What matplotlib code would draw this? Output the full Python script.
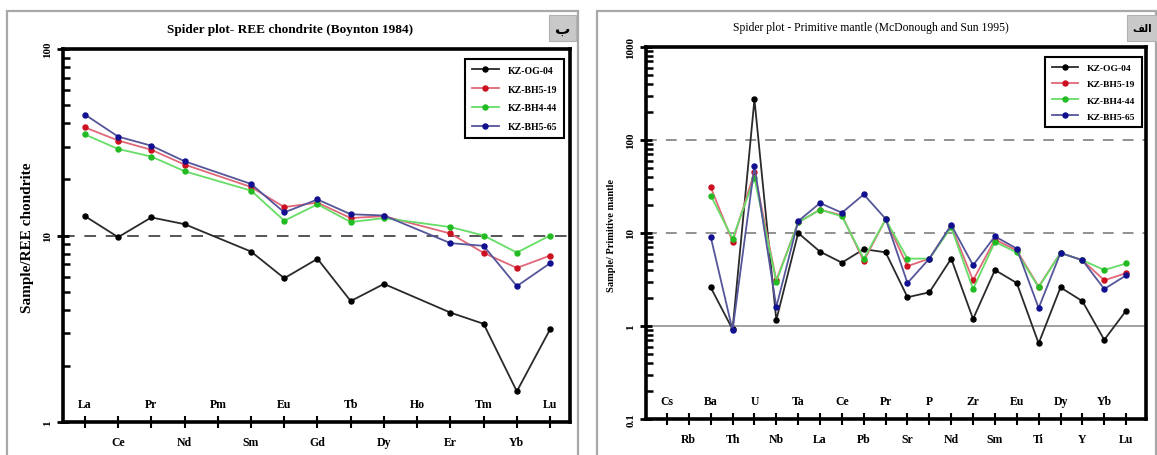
import matplotlib
matplotlib.use('Agg')
import matplotlib.pyplot as plt
import numpy as np
from matplotlib.patches import Rectangle
from matplotlib.ticker import LogLocator, NullFormatter, FixedLocator, FixedFormatter
import matplotlib.transforms as mtransforms

plt.rcParams['font.family'] = ['Liberation Serif', 'DejaVu Sans']
nan = np.nan

# ---------------- data: REE chondrite (Boynton 1984) ----------------
ree_elements = ['La', 'Ce', 'Pr', 'Nd', 'Pm', 'Sm', 'Eu', 'Gd', 'Tb', 'Dy', 'Ho', 'Er', 'Tm', 'Yb', 'Lu']
ree_og04 = [12.7, 9.8, 12.5, 11.5, nan, 8.2, 5.9, 7.5, 4.45, 5.5, nan, 3.86, 3.36, 1.46, 3.14]
ree_bh519 = [38.0, 32.3, 28.8, 24.0, nan, 18.2, 14.2, 15.0, 12.4, 12.7, nan, 10.25, 8.07, 6.7, 7.8]
ree_bh444 = [34.8, 29.1, 26.5, 22.1, nan, 17.4, 12.0, 14.7, 11.8, 12.4, nan, 11.1, 10.0, 8.1, 10.0]
ree_bh565 = [44.5, 33.9, 30.3, 25.0, nan, 18.9, 13.3, 15.6, 13.0, 12.8, nan, 9.1, 8.8, 5.35, 7.1]

# ---------------- data: Primitive mantle (McDonough and Sun 1995) ----------------
pm_elements = ['Cs', 'Rb', 'Ba', 'Th', 'U', 'Nb', 'Ta', 'La', 'Ce', 'Pb', 'Pr', 'Sr', 'P', 'Nd',
               'Zr', 'Sm', 'Eu', 'Ti', 'Dy', 'Y', 'Yb', 'Lu']
pm_og04 = [nan, nan, 2.6, 0.92, 273, 1.16, 10.0, 6.3, 4.8, 6.7, 6.2, 2.04, 2.3, 5.3,
           1.19, 4.0, 2.9, 0.65, 2.6, 1.85, 0.71, 1.46]
pm_bh519 = [nan, nan, 31.0, 8.1, 45.0, 3.1, 13.0, 17.8, 15.5, 5.0, 14.0, 4.4, 5.3, 11.9,
            3.1, 8.5, 6.5, 2.65, 6.1, 5.1, 3.1, 3.7]
pm_bh444 = [nan, nan, 25.3, 8.7, 38.9, 3.0, 13.0, 17.8, 15.1, 5.3, 14.0, 5.3, 5.3, 11.5,
            2.5, 8.0, 6.2, 2.6, 6.1, 5.1, 4.0, 4.7]
pm_bh565 = [nan, nan, 9.1, 0.9, 52.6, 1.6, 13.4, 21.0, 16.5, 26.0, 14.2, 2.9, 5.3, 12.2,
            4.5, 9.2, 6.8, 1.56, 6.1, 5.1, 2.5, 3.5]

sample_names = ['KZ-OG-04', 'KZ-BH5-19', 'KZ-BH4-44', 'KZ-BH5-65']
line_colors = ['#2a2a2a', '#e06878', '#66dd66', '#55559a']
marker_colors = ['#000000', '#cc1020', '#22bb22', '#101090']

left_title = 'Spider plot- REE chondrite (Boynton 1984)'
right_title = 'Spider plot - Primitive mantle (McDonough and Sun 1995)'
left_ylabel = 'Sample/REE chondrite'
right_ylabel = 'Sample/ Primitive mantle'
left_tag = '\u0628'                      # ب
right_tag = '\uFED2\uFEDF\uFE8D'          # الف (visual order, presentation forms)

W, H = 1157, 456
fig = plt.figure(figsize=(W / 100, H / 100), dpi=100)
fig.patch.set_facecolor('white')


def fx(px):
    return px / W


def fy(py):
    return 1 - py / H


# panel frames
for x0, x1 in [(7, 578), (597, 1156)]:
    fig.add_artist(Rectangle((fx(x0), fy(470)), fx(x1 - x0), (470 - 12) / H,
                             transform=fig.transFigure, fill=False,
                             edgecolor='#a8a8a8', lw=1.6))
# corner tags
for (x0, x1, txt, fs) in [(549, 576, left_tag, 11), (1127, 1157, right_tag, 7.5)]:
    fig.add_artist(Rectangle((fx(x0), fy(42)), fx(x1 - x0), 26 / H,
                             transform=fig.transFigure, facecolor='#c9c9c9',
                             edgecolor='#b0b0b0', lw=0.8))
    fig.text(fx((x0 + x1) / 2), fy(29), txt, ha='center', va='center',
             fontsize=fs, fontweight='bold', family='DejaVu Sans')

fig.text(fx(290), fy(30), left_title, ha='center', va='center',
         fontsize=9.5, fontweight='bold')
fig.text(fx(871), fy(28), right_title, ha='center', va='center',
         fontsize=8.4)

fig.text(fx(28), fy(238), left_ylabel, rotation=90, ha='center', va='center',
         fontsize=11, fontweight='bold')
fig.text(fx(611), fy(236), right_ylabel, rotation=90, ha='center', va='center',
         fontsize=7.5, fontweight='bold')


def setup_axes(ax, elements, ylim, xlim, major, major_labels, inner_y):
    ax.set_yscale('log')
    ax.set_ylim(*ylim)
    ax.set_xlim(*xlim)
    for sp in ax.spines.values():
        sp.set_linewidth(2.6)
        sp.set_color('black')
    x = np.arange(len(elements))
    ax.set_xticks(x)
    outer = [e if i % 2 == 1 else '' for i, e in enumerate(elements)]
    ax.set_xticklabels(outer, fontsize=8.5, fontweight='bold')
    trans = mtransforms.blended_transform_factory(ax.transData, ax.transAxes)
    for i, e in enumerate(elements):
        if i % 2 == 0:
            ax.text(i, inner_y, e, transform=trans, ha='center', va='center',
                    fontsize=8.5, fontweight='bold')
    ax.tick_params(axis='x', direction='inout', length=8, width=1.5, pad=6)
    ax.yaxis.set_major_locator(FixedLocator(major))
    ax.yaxis.set_major_formatter(FixedFormatter(major_labels))
    ax.yaxis.set_minor_locator(LogLocator(base=10, subs=np.arange(2, 10), numticks=20))
    ax.yaxis.set_minor_formatter(NullFormatter())
    ax.tick_params(axis='y', which='major', direction='inout', length=9, width=2, pad=3)
    ax.tick_params(axis='y', which='minor', direction='in', length=5, width=1.8)
    for lab in ax.get_yticklabels():
        lab.set_rotation(90)
        lab.set_va('center')
        lab.set_fontweight('bold')
        lab.set_fontsize(8)


def plot_series(ax, series):
    handles = []
    for vals, lc, mc, name in zip(series, line_colors, marker_colors, sample_names):
        v = np.array(vals, dtype=float)
        xs = np.arange(len(v))
        m = ~np.isnan(v)
        h, = ax.plot(xs[m], v[m], '-o', color=lc, lw=1.3, ms=3.6,
                     markerfacecolor=mc, markeredgecolor=mc, label=name, zorder=3)
        handles.append(h)
    return handles


# ---------------- left axes ----------------
axL = fig.add_axes([fx(63), fy(423), fx(570 - 63), (423 - 50) / H])
setup_axes(axL, ree_elements, (1, 100), (-0.66, len(ree_elements) - 1 + 0.6),
           [1, 10, 100], ['1', '10', '100'], 0.048)
axL.axhline(10, color='#555555', lw=1.4, ls=(0, (6, 5)), zorder=1)
hL = plot_series(axL, [ree_og04, ree_bh519, ree_bh444, ree_bh565])
legL = axL.legend(handles=hL, loc='upper right', bbox_to_anchor=(1 - 6 / 507, 1 - 10 / 373),
                  borderaxespad=0, fancybox=False, framealpha=1, edgecolor='black',
                  prop={'size': 7, 'weight': 'bold', 'family': 'Liberation Serif'},
                  handlelength=2.8, labelspacing=1.0, borderpad=0.7, handletextpad=0.9)
legL.get_frame().set_linewidth(1.5)

# ---------------- right axes ----------------
axR = fig.add_axes([fx(646), fy(420), fx(1146 - 646), (420 - 48) / H])
setup_axes(axR, pm_elements, (0.1, 1000), (-0.96, len(pm_elements) - 1 + 0.91),
           [0.1, 1, 10, 100, 1000], ['0.1', '1', '10', '100', '1000'], 0.048)
axR.axhline(100, color='#888888', lw=1.3, ls=(0, (6, 5)), zorder=1)
axR.axhline(10, color='#888888', lw=1.3, ls=(0, (6, 5)), zorder=1)
axR.axhline(1, color='#999999', lw=1.3, zorder=1)
hR = plot_series(axR, [pm_og04, pm_bh519, pm_bh444, pm_bh565])
legR = axR.legend(handles=hR, loc='upper right', bbox_to_anchor=(1 - 4 / 500, 1 - 10 / 372),
                  borderaxespad=0, fancybox=False, framealpha=1, edgecolor='black',
                  prop={'size': 6.8, 'weight': 'bold', 'family': 'Liberation Serif'},
                  handlelength=2.8, labelspacing=0.8, borderpad=0.7, handletextpad=0.9)
legR.get_frame().set_linewidth(1.5)

fig.savefig('out.png', dpi=100, facecolor='white')
